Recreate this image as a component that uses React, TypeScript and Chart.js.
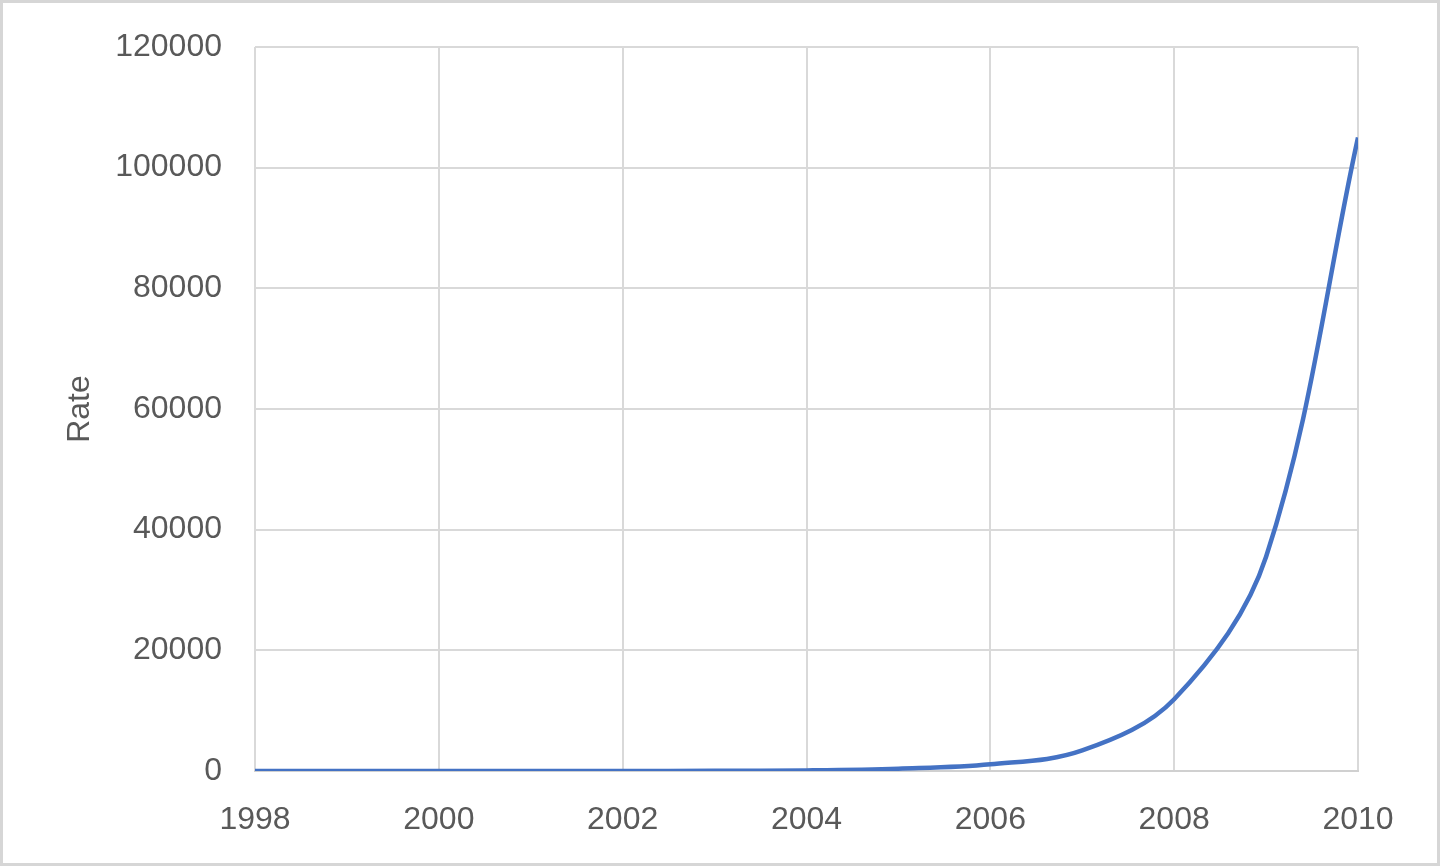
import React, { useEffect, useRef } from "react";
import { Chart, registerables } from "chart.js";

Chart.register(...registerables);

const years = [1998, 1999, 2000, 2001, 2002, 2003, 2004, 2005, 2006, 2007, 2008, 2009, 2010];
const rateValues = [0, 0, 1, 3, 10, 30, 100, 380, 1100, 3400, 11900, 35500, 105000];
const xTicks = [1998, 2000, 2002, 2004, 2006, 2008, 2010];
const yTicks = [0, 20000, 40000, 60000, 80000, 100000, 120000];
const yTitle = "Rate";

const FONT = "'Liberation Sans', Arial, sans-serif";
const TEXT = "#595959";
const GRID = "#d9d9d9";

const borderPlugin = {
  id: "outerBorder",
  beforeDraw(chart: any) {
    const { ctx, width, height } = chart;
    ctx.save();
    ctx.fillStyle = "#ffffff";
    ctx.fillRect(0, 0, width, height);
    ctx.strokeStyle = "#d6d6d6";
    ctx.lineWidth = 3;
    ctx.strokeRect(1.5, 1.5, width - 3, height - 3);
    ctx.restore();
  },
};

export default function App() {
  const ref = useRef<HTMLCanvasElement | null>(null);

  useEffect(() => {
    if (!ref.current) return;
    const data = years.map((y, i) => ({ x: y, y: rateValues[i] }));
    const chart = new Chart(ref.current, {
      type: "line",
      data: {
        datasets: [
          {
            label: yTitle,
            data,
            borderColor: "#4472C4",
            borderWidth: 4.5,
            pointRadius: 0,
            tension: 0.35,
            fill: false,
          },
        ],
      },
      options: {
        animation: false,
        responsive: false,
        layout: { padding: { top: 47, right: 82, left: 0, bottom: 0 } },
        plugins: { legend: { display: false }, tooltip: { enabled: false } },
        scales: {
          x: {
            type: "linear",
            min: xTicks[0],
            max: xTicks[xTicks.length - 1],
            afterBuildTicks: (scale: any) => {
              scale.ticks = xTicks.map((v) => ({ value: v }));
            },
            afterFit: (scale: any) => {
              scale.height = 95;
              scale.paddingLeft = 0;
              scale.paddingRight = 0;
            },
            grid: { color: GRID, lineWidth: 2, drawTicks: false },
            border: { display: true, color: "#d0d0d0", width: 2 },
            ticks: {
              color: TEXT,
              font: { family: FONT, size: 32 },
              padding: 30,
              maxRotation: 0,
              autoSkip: false,
              callback: (v: any) => String(v),
            },
          },
          y: {
            min: 0,
            max: yTicks[yTicks.length - 1],
            afterBuildTicks: (scale: any) => {
              scale.ticks = yTicks.map((v) => ({ value: v }));
            },
            afterFit: (scale: any) => {
              scale.width = 255;
              scale.paddingTop = 0;
              scale.paddingBottom = 0;
            },
            grid: { color: GRID, lineWidth: 2, drawTicks: false },
            border: { display: false },
            ticks: {
              color: TEXT,
              font: { family: FONT, size: 32 },
              padding: 33,
              callback: (v: any) => String(v),
            },
            title: {
              display: true,
              text: yTitle,
              color: TEXT,
              font: { family: FONT, size: 32 },
              padding: { top: 61, bottom: 0 },
            },
          },
        },
      },
      plugins: [borderPlugin],
    });
    return () => chart.destroy();
  }, []);

  return (
    <div style={{ position: "absolute", left: 0, top: 0, width: 1440, height: 866 }}>
      <canvas ref={ref} width={1440} height={866} style={{ display: "block" }} />
    </div>
  );
}
